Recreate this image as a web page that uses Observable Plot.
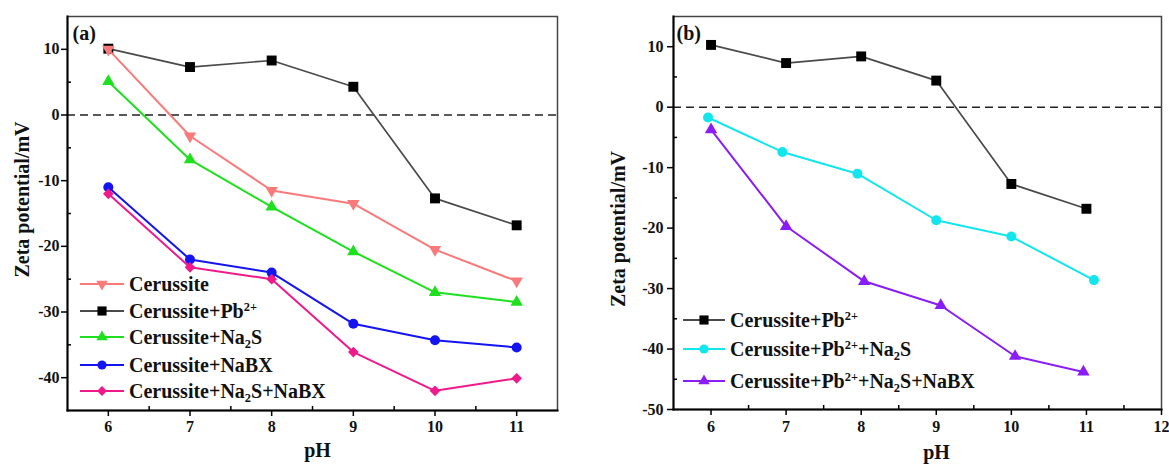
<!DOCTYPE html>
<html>
<head>
<meta charset="utf-8">
<script src="https://cdn.jsdelivr.net/npm/d3@7"></script>
<script src="https://cdn.jsdelivr.net/npm/@observablehq/plot@0.6"></script>
<style>
  body { margin: 0; background: #fff; }
  #wrap { position: relative; width: 1169px; height: 464px; overflow: hidden;
          font-family: "Liberation Serif", "Times New Roman", serif; font-weight: bold; color: #111; }
  .panel { position: absolute; top: 0; }
  .legend { position: absolute; font-size: 20px; line-height: 1; }
  .row { position: absolute; left: 0; display: flex; align-items: center; white-space: nowrap; height: 26px; }
  .row svg { margin-right: 3px; flex: none; }
  sub, sup { font-size: 62%; line-height: 0; }
  sub { vertical-align: -0.3em; }
  sup { vertical-align: 0.55em; }
</style>
</head>
<body>
<div id="wrap"></div>
<script>
// ---------------- data ----------------
// panel (a)
const pHa = [6, 7, 8, 9, 10, 11];
const aCerussite      = [10.0, -3.2, -11.5, -13.5, -20.5, -25.3];
const aCerussitePb    = [10.1, 7.3, 8.3, 4.3, -12.7, -16.8];
const aCerussiteNa2S  = [5.1, -6.8, -14.0, -20.8, -27.0, -28.5];
const aCerussiteNaBX  = [-11.0, -22.0, -24.0, -31.8, -34.3, -35.4];
const aCerussiteNa2SNaBX = [-12.0, -23.2, -25.0, -36.1, -42.0, -40.1];

// panel (b)
const pHbPb         = [6, 7, 8, 9, 10, 11];
const bCerussitePb  = [10.3, 7.3, 8.4, 4.4, -12.7, -16.8];
const pHbPbNa2S     = [5.96, 6.95, 7.95, 9.0, 10.0, 11.1];
const bCerussitePbNa2S = [-1.7, -7.4, -11.0, -18.7, -21.4, -28.6];
const pHbPbNa2SNaBX = [6.0, 7.0, 8.04, 9.06, 10.05, 10.96];
const bCerussitePbNa2SNaBX = [-3.7, -19.7, -28.8, -32.8, -41.2, -43.8];

// ticks
const xTicksA = [6, 7, 8, 9, 10, 11];
const xMinorA = [6.5, 7.5, 8.5, 9.5, 10.5];
const yTicksA = [-40, -30, -20, -10, 0, 10];
const yMinorA = [-35, -25, -15, -5, 5];
const xTicksB = [6, 7, 8, 9, 10, 11, 12];
const xMinorB = [6.5, 7.5, 8.5, 9.5, 10.5, 11.5];
const yTicksB = [-50, -40, -30, -20, -10, 0, 10];
const yMinorB = [-45, -35, -25, -15, -5, 5];

// labels
const yLabel = "Zeta potential/mV";
const xLabel = "pH";

// ---------------- styles ----------------
const FONT = '"Liberation Serif", "Times New Roman", serif';
const S = {
  pb:       {color: "#4a4a4a", fill: "#000", symbol: "square",   r: 5.6, rotate: 0,   width: 1.7},
  cer:      {color: "#fa7a7a", fill: "#fa7a7a", symbol: "triangle", r: 4.6, rotate: 180, width: 2},
  na2s:     {color: "#1ee01e", fill: "#1ee01e", symbol: "triangle", r: 4.6, rotate: 0,   width: 2},
  nabx:     {color: "#1414f0", fill: "#1414f0", symbol: "circle",   r: 5,   rotate: 0,   width: 2},
  na2snabx: {color: "#f0198c", fill: "#f0198c", symbol: "diamond2", r: 4.8, rotate: 0,   width: 2},
  pbna2s:   {color: "#11e6ee", fill: "#11e6ee", symbol: "circle",   r: 5,   rotate: 0,   width: 2},
  pbna2snabx:{color: "#8a1cf5", fill: "#8a1cf5", symbol: "triangle", r: 4.6, rotate: 0,  width: 2}
};

const seriesA = [
  {x: pHa, y: aCerussitePb, s: S.pb},
  {x: pHa, y: aCerussite, s: S.cer},
  {x: pHa, y: aCerussiteNa2S, s: S.na2s},
  {x: pHa, y: aCerussiteNaBX, s: S.nabx},
  {x: pHa, y: aCerussiteNa2SNaBX, s: S.na2snabx}
];
const seriesB = [
  {x: pHbPb, y: bCerussitePb, s: S.pb},
  {x: pHbPbNa2S, y: bCerussitePbNa2S, s: S.pbna2s},
  {x: pHbPbNa2SNaBX, y: bCerussitePbNa2SNaBX, s: S.pbna2snabx}
];

function seriesMarks(series) {
  return series.flatMap(({x, y, s}) => {
    const pts = x.map((v, i) => ({x: v, y: y[i]}));
    return [
      Plot.line(pts, {x: "x", y: "y", stroke: s.color, strokeWidth: s.width}),
      Plot.dot(pts, {x: "x", y: "y", symbol: s.symbol, r: s.r, fill: s.fill, stroke: "none", rotate: s.rotate})
    ];
  });
}

function panel(o) {
  const frameH = o.height - o.mt - o.mb;
  const frameW = o.width - o.ml - o.mr;
  return Plot.plot({
    width: o.width, height: o.height,
    marginLeft: o.ml, marginRight: o.mr, marginTop: o.mt, marginBottom: o.mb,
    x: {domain: o.xDomain},
    y: {domain: o.yDomain},
    style: {fontFamily: FONT, fontWeight: "bold", fontSize: "16px", color: "#111", background: "transparent", overflow: "visible"},
    marks: [
      Plot.ruleY([0], {stroke: "#222", strokeWidth: 1.6, strokeDasharray: "8,5"}),
      ...seriesMarks(o.series),
      Plot.frame({stroke: "#444", strokeWidth: 1.5}),
      Plot.frame({anchor: "left", stroke: "#000", strokeWidth: 2}),
      Plot.frame({anchor: "bottom", stroke: "#000", strokeWidth: 2}),
      Plot.axisX({ticks: o.xTicks, tickSize: 6, tickPadding: o.xPad, tickFormat: d => String(d), label: null, stroke: "#000", strokeWidth: 1.5}),
      Plot.axisY({ticks: o.yTicks, tickSize: 6, tickPadding: o.yPad, tickFormat: d => String(d), label: null, stroke: "#000", strokeWidth: 1.5}),
      Plot.tickX(o.xMinor, {x: d => d, insetTop: frameH - 4, stroke: "#000", strokeWidth: 1.5}),
      Plot.tickY(o.yMinor, {y: d => d, insetRight: frameW - 4, stroke: "#000", strokeWidth: 1.5}),
      Plot.text([yLabel], {frameAnchor: "left", rotate: -90, textAnchor: "middle", lineAnchor: "middle",
                           dx: o.yLabDx, dy: o.yLabDy, fontSize: 20, fontWeight: "bold", fill: "#111"}),
      Plot.text([xLabel], {frameAnchor: "bottom", textAnchor: "middle", lineAnchor: "middle",
                           dx: o.xLabDx, dy: o.xLabDy, fontSize: 20, fontWeight: "bold", fill: "#111"}),
      Plot.text([o.tag], {frameAnchor: "top-left", textAnchor: "start", lineAnchor: "middle",
                          dx: o.tagDx, dy: 17, fontSize: 20, fontWeight: "bold", fill: "#111"})
    ]
  });
}

const wrap = document.getElementById("wrap");

const A = panel({
  width: 580, height: 464, ml: 67, mr: 23, mt: 16, mb: 54,
  xDomain: [5.5, 11.5], yDomain: [-45, 15],
  xTicks: xTicksA, xMinor: xMinorA, yTicks: yTicksA, yMinor: yMinorA,
  xPad: 4, yPad: 2, series: seriesA,
  yLabDx: -45, yLabDy: -14, xLabDx: 5, xLabDy: 40, tag: "(a)", tagDx: 5
});
A.classList.add("panel"); A.style.left = "0px";
wrap.appendChild(A);

const B = panel({
  width: 584, height: 464, ml: 88, mr: 8, mt: 16, mb: 55,
  xDomain: [5.5, 12], yDomain: [-50, 15],
  xTicks: xTicksB, xMinor: xMinorB, yTicks: yTicksB, yMinor: yMinorB,
  xPad: 5, yPad: 4, series: seriesB,
  yLabDx: -55, yLabDy: 16, xLabDx: 19, xLabDy: 43, tag: "(b)", tagDx: 3
});
B.classList.add("panel"); B.style.left = "585px";
wrap.appendChild(B);

// ---------------- legends (HTML so sub/superscripts are real text) ----------------
function swatch(s, w) {
  const ns = "http://www.w3.org/2000/svg";
  const svg = document.createElementNS(ns, "svg");
  svg.setAttribute("width", w); svg.setAttribute("height", 20);
  const line = document.createElementNS(ns, "line");
  line.setAttribute("x1", 2); line.setAttribute("x2", w - 2);
  line.setAttribute("y1", 10); line.setAttribute("y2", 10);
  line.setAttribute("stroke", s.color); line.setAttribute("stroke-width", 2.2);
  svg.appendChild(line);
  const symMap = {square: d3.symbolSquare, triangle: d3.symbolTriangle, circle: d3.symbolCircle, diamond2: d3.symbolDiamond2};
  const p = document.createElementNS(ns, "path");
  p.setAttribute("d", d3.symbol(symMap[s.symbol], s.r * s.r * Math.PI * 0.85)());
  p.setAttribute("fill", s.fill);
  p.setAttribute("transform", `translate(${w / 2},10) rotate(${s.rotate})`);
  svg.appendChild(p);
  return svg;
}

function legend(left, entries, w) {
  const div = document.createElement("div");
  div.className = "legend";
  div.style.left = left + "px"; div.style.top = "0px";
  for (const e of entries) {
    const row = document.createElement("div");
    row.className = "row";
    row.style.top = (e.cy - 13) + "px";
    row.appendChild(swatch(e.s, w));
    const span = document.createElement("span");
    span.innerHTML = e.html;
    row.appendChild(span);
    div.appendChild(row);
  }
  wrap.appendChild(div);
}

legend(78, [
  {s: S.cer, cy: 284, html: "Cerussite"},
  {s: S.pb, cy: 311, html: "Cerussite+Pb<sup>2+</sup>"},
  {s: S.na2s, cy: 337, html: "Cerussite+Na<sub>2</sub>S"},
  {s: S.nabx, cy: 365, html: "Cerussite+NaBX"},
  {s: S.na2snabx, cy: 391, html: "Cerussite+Na<sub>2</sub>S+NaBX"}
], 48);

legend(681, [
  {s: S.pb, cy: 320, html: "Cerussite+Pb<sup>2+</sup>"},
  {s: S.pbna2s, cy: 349, html: "Cerussite+Pb<sup>2+</sup>+Na<sub>2</sub>S"},
  {s: S.pbna2snabx, cy: 381, html: "Cerussite+Pb<sup>2+</sup>+Na<sub>2</sub>S+NaBX"}
], 46);
</script>
</body>
</html>
